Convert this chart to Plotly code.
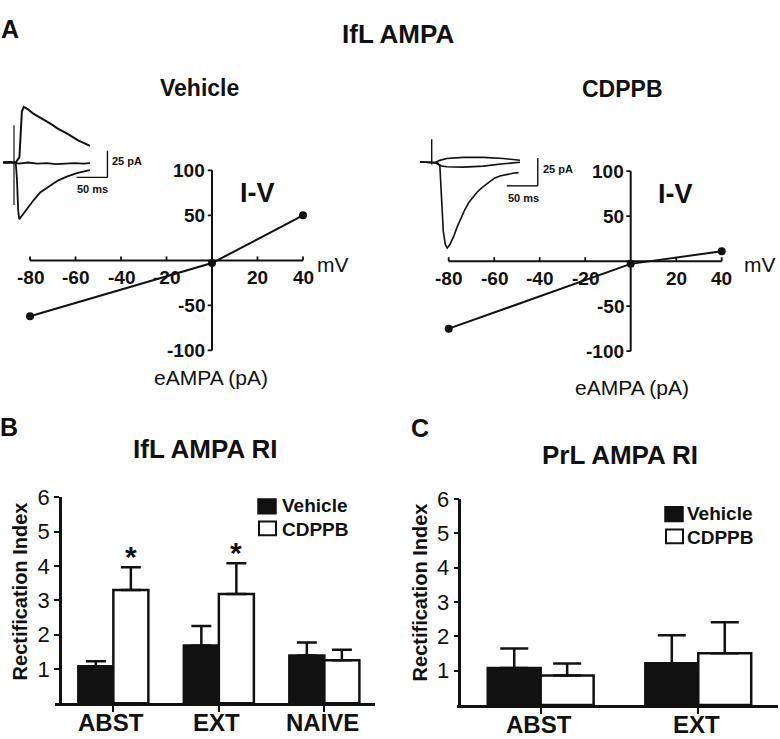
import plotly.graph_objects as go

W, H = 780, 739
FONT = "Liberation Sans, Arial, Helvetica, sans-serif"

# ---------------- DATA ----------------
# Panel A: I-V relationship (holding potential mV -> eAMPA pA)
iv_voltage = [-80, 0, 40]
iv_vehicle = [-62, -3, 50]
iv_cdppb = [-75, -3, 11]
iv_xticks = [-80, -60, -40, -20, 20, 40]
iv_yticks = [-100, -50, 50, 100]

# Panel A insets: example current traces (time ms, current pA)
veh_base_t = [0, 10, 17, 25, 40, 55, 70, 85, 100, 115, 130, 140]
veh_base_i = [0, 0.5, 0, -1, 0, -1, -0.5, -1.5, -1, -0.5, -1, -0.5]
veh_pos_t = [0, 20, 26, 28, 30, 33, 40, 48.4, 62, 75.3, 88, 102.3, 120, 139.8]
veh_pos_i = [0, 0, 5, 30, 48, 52.4, 50, 46, 41.5, 36.8, 32, 27.5, 21, 15.7]
veh_neg_t = [0, 20, 22, 24, 25.8, 30, 37.7, 48.4, 60, 75.3, 88, 102.3, 120, 139.8]
veh_neg_i = [0, 0, -15, -45, -53.4, -50, -43.5, -35.8, -28, -21.9, -17, -13.3, -9.8, -7.1]
veh_artifact_t = [17.3, 17.3]
veh_artifact_i = [35, -40]

cd_pos_t = [0, 24.2, 32, 43.1, 69.8, 102.1, 134.4, 161.3]
cd_pos_i = [0, -0.7, 1.5, 3.1, 4.2, 4.2, 3.1, 1.6]
cd_zero_t = [0, 24.2, 35, 43.1, 69.8, 102.1, 134.4, 161.3]
cd_zero_i = [0, -0.7, -3.5, -4.2, -4.6, -3.7, -1.6, -0.2]
cd_neg_t = [0, 28, 32, 37.6, 41, 44, 48, 54, 60, 66, 72, 79, 86, 92, 100, 113, 120, 129, 140, 150, 159]
cd_neg_i = [0, -0.5, -3, -62, -74, -77, -74, -67, -58, -50, -43, -36, -31, -27, -23, -17, -14.5, -12.5, -11, -10, -9.5]
cd_artifact_t = [18.9, 18.9]
cd_artifact_i = [20.4, -2.2]

scale_ms = 50
scale_pA = 25

# Panel B: IfL AMPA rectification index
groups_B = ["ABST", "EXT", "NAIVE"]
B_vehicle = [1.08, 1.68, 1.39]
B_vehicle_err = [0.14, 0.57, 0.38]
B_cdppb = [3.30, 3.18, 1.25]
B_cdppb_err = [0.66, 0.90, 0.31]
B_sig = [True, True, False]

# Panel C: PrL AMPA rectification index
groups_C = ["ABST", "EXT"]
C_vehicle = [1.08, 1.22]
C_vehicle_err = [0.57, 0.81]
C_cdppb = [0.86, 1.51]
C_cdppb_err = [0.35, 0.90]

ri_ticks = [1, 2, 3, 4, 5, 6]


# ---------------- helpers ----------------
def dx(a, b):
    return [a / W, b / W]


def dy(top, bottom):
    return [1 - bottom / H, 1 - top / H]


def px(x):
    return x / W


def py(y):
    return 1 - y / H


fig = go.Figure()
shapes = []
annotations = []
BLACK = "#111111"

# ---------------- Panel A: I-V plots ----------------
iv_sets = [("x", "y", iv_vehicle), ("x2", "y2", iv_cdppb)]
for xr, yr, vals in iv_sets:
    fig.add_trace(go.Scatter(
        x=iv_voltage, y=vals, mode="lines+markers", xaxis=xr, yaxis=yr,
        line=dict(color=BLACK, width=2), marker=dict(color=BLACK, size=8),
        cliponaxis=False, hoverinfo="skip"))
    shapes.append(dict(type="line", xref=xr, yref=yr, x0=min(iv_xticks), x1=max(iv_xticks),
                       y0=0, y1=0, line=dict(color=BLACK, width=2), layer="below"))
    shapes.append(dict(type="line", xref=xr, yref=yr, x0=0, x1=0,
                       y0=min(iv_yticks), y1=max(iv_yticks), line=dict(color=BLACK, width=2), layer="below"))
    for v in iv_xticks:
        shapes.append(dict(type="line", xref=xr, yref=yr, x0=v, x1=v, y0=0, y1=4.4,
                           line=dict(color=BLACK, width=1.8), layer="below"))
        annotations.append(dict(x=v, y=0, xref=xr, yref=yr, text=str(v), showarrow=False,
                                xanchor="center", yanchor="middle", yshift=-17,
                                font=dict(family=FONT, size=19, color=BLACK, weight="bold")))
    for v in iv_yticks:
        shapes.append(dict(type="line", xref=xr, yref=yr, x0=0, x1=-1.9, y0=v, y1=v,
                           line=dict(color=BLACK, width=1.8), layer="below"))
        annotations.append(dict(x=0, y=v, xref=xr, yref=yr, text=str(v), showarrow=False,
                                xanchor="right", yanchor="middle", xshift=-5,
                                font=dict(family=FONT, size=19, color=BLACK, weight="bold")))
    annotations.append(dict(x=0, y=0, xref=xr, yref=yr, text="I-V", showarrow=False,
                            xanchor="center", yanchor="middle", xshift=45, yshift=67,
                            font=dict(family=FONT, size=27, color=BLACK, weight="bold")))

# ---------------- Panel A insets ----------------
inset_lines = [
    ("x3", "y3", veh_base_t, veh_base_i, 1.8),
    ("x3", "y3", veh_pos_t, veh_pos_i, 2.0),
    ("x3", "y3", veh_neg_t, veh_neg_i, 1.8),
    ("x3", "y3", veh_artifact_t, veh_artifact_i, 1.2),
    ("x4", "y4", cd_pos_t, cd_pos_i, 1.6),
    ("x4", "y4", cd_zero_t, cd_zero_i, 1.6),
    ("x4", "y4", cd_neg_t, cd_neg_i, 1.6),
    ("x4", "y4", cd_artifact_t, cd_artifact_i, 1.4),
]
for xr, yr, t, i, lw in inset_lines:
    fig.add_trace(go.Scatter(x=t, y=i, mode="lines", xaxis=xr, yaxis=yr,
                             line=dict(color=BLACK, width=lw), hoverinfo="skip",
                             cliponaxis=False))

# scale bars (corner in ms / pA units of each inset)
for xr, yr, ct, ci in [("x3", "y3", 168, -14), ("x4", "y4", 190, -21.3)]:
    shapes.append(dict(type="line", xref=xr, yref=yr, x0=ct, x1=ct, y0=ci, y1=ci + scale_pA,
                       line=dict(color=BLACK, width=1.4)))
    shapes.append(dict(type="line", xref=xr, yref=yr, x0=ct - scale_ms, x1=ct, y0=ci, y1=ci,
                       line=dict(color=BLACK, width=1.4)))
    annotations.append(dict(x=ct, y=ci + scale_pA * 0.62, xref=xr, yref=yr, text="25 pA",
                            showarrow=False, xanchor="left", yanchor="middle", xshift=3,
                            font=dict(family=FONT, size=11, color=BLACK, weight="bold")))
    annotations.append(dict(x=ct - scale_ms * 0.47, y=ci, xref=xr, yref=yr, text="50 ms",
                            showarrow=False, xanchor="center", yanchor="middle", yshift=-12,
                            font=dict(family=FONT, size=11, color=BLACK, weight="bold")))

# ---------------- Panels B & C: bar charts ----------------
bar_sets = [
    ("x5", "y5", groups_B, B_vehicle, B_vehicle_err, B_cdppb, B_cdppb_err, 0.332, 10),
    ("x6", "y6", groups_C, C_vehicle, C_vehicle_err, C_cdppb, C_cdppb_err, 0.336, 14),
]
for xr, yr, g, v, ve, c, ce, bw, capw in bar_sets:
    fig.add_trace(go.Bar(
        x=g, y=v, xaxis=xr, yaxis=yr, width=bw, offset=-bw,
        marker=dict(color=BLACK, line=dict(color=BLACK, width=2.5)),
        error_y=dict(type="data", array=ve, arrayminus=[0] * len(ve), symmetric=False,
                     color=BLACK, thickness=2.5, width=capw),
        hoverinfo="skip"))
    fig.add_trace(go.Bar(
        x=g, y=c, xaxis=xr, yaxis=yr, width=bw, offset=0,
        marker=dict(color="white", line=dict(color=BLACK, width=2.5)),
        error_y=dict(type="data", array=ce, arrayminus=[0] * len(ce), symmetric=False,
                     color=BLACK, thickness=2.5, width=capw),
        hoverinfo="skip"))
    for k, name in enumerate(g):
        annotations.append(dict(x=k, y=0, xref=xr, yref=yr, text=name, showarrow=False,
                                xanchor="center", yanchor="middle", yshift=-19, xshift=-2,
                                font=dict(family=FONT, size=24, color=BLACK, weight="bold")))

# significance stars (panel B, CDPPB bars)
for k, sig in enumerate(B_sig):
    if sig:
        annotations.append(dict(x=k + 0.166, y=B_cdppb[k] + B_cdppb_err[k] + 0.3,
                                xref="x5", yref="y5", text="*", showarrow=False,
                                xanchor="center", yanchor="middle",
                                font=dict(family=FONT, size=30, color=BLACK, weight="bold")))

# manual legends
for (sx0, sy0, tx) in [(258, 495, 280), (665, 503, 685)]:
    shapes.append(dict(type="rect", xref="paper", yref="paper",
                       x0=px(sx0), x1=px(sx0 + 18), y0=py(sy0), y1=py(sy0 + 15),
                       fillcolor=BLACK, line=dict(color=BLACK, width=1.5)))
    shapes.append(dict(type="rect", xref="paper", yref="paper",
                       x0=px(sx0 + 1), x1=px(sx0 + 18), y0=py(sy0 + 23), y1=py(sy0 + 37),
                       fillcolor="white", line=dict(color=BLACK, width=2)))
    annotations.append(dict(x=px(tx), y=py(sy0 + 7), xref="paper", yref="paper", text="Vehicle",
                            showarrow=False, xanchor="left", yanchor="middle",
                            font=dict(family=FONT, size=19, color=BLACK, weight="bold")))
    annotations.append(dict(x=px(tx), y=py(sy0 + 31), xref="paper", yref="paper", text="CDPPB",
                            showarrow=False, xanchor="left", yanchor="middle",
                            font=dict(family=FONT, size=19, color=BLACK, weight="bold")))


# ---------------- Text labels ----------------
def txt(x, y, s, size, bold=True, angle=0):
    annotations.append(dict(x=px(x), y=py(y), xref="paper", yref="paper", text=s,
                            showarrow=False, xanchor="center", yanchor="middle",
                            textangle=angle,
                            font=dict(family=FONT, size=size, color=BLACK,
                                      weight="bold" if bold else "normal")))


txt(10, 17, "A", 25)
txt(398, 22, "IfL AMPA", 26)
txt(199.5, 77, "Vehicle", 23)
txt(622.5, 78, "CDPPB", 23)
txt(332.5, 257, "mV", 21, bold=False)
txt(760, 257, "mV", 21, bold=False)
txt(210.7, 372, "eAMPA (pA)", 21, bold=False)
txt(631.7, 382, "eAMPA (pA)", 21, bold=False)
txt(9, 422, "B", 25)
txt(420, 423, "C", 25)
txt(205, 444, "IfL AMPA RI", 26)
txt(620, 450, "PrL AMPA RI", 26)
txt(20, 589, "Rectification Index", 20, angle=-90)
txt(420, 590, "Rectification Index", 20, angle=-90)

# ---------------- Layout ----------------
hidden = dict(visible=False, fixedrange=True, autorange=False)
bar_y = dict(range=[0, 6], autorange=False, showline=True, linewidth=2.5, linecolor=BLACK,
             ticks="outside", ticklen=5, tickwidth=2, tickcolor=BLACK, tickvals=ri_ticks,
             showgrid=False, zeroline=False, anchor="free",
             tickfont=dict(family=FONT, size=22, color=BLACK))
bar_x = dict(type="category", showline=True, linewidth=2.5, linecolor=BLACK,
             ticks="outside", ticklen=6, tickwidth=2, tickcolor=BLACK, showgrid=False,
             zeroline=False, autorange=False, showticklabels=False)

fig.update_layout(
    width=W, height=H, margin=dict(l=0, r=0, t=0, b=0),
    paper_bgcolor="white", plot_bgcolor="rgba(0,0,0,0)", showlegend=False,
    xaxis=dict(hidden, domain=dx(10, 330), range=[-88.8, 51.87], anchor="y"),
    yaxis=dict(hidden, domain=dy(150, 360), range=[-117.5, 112.0], anchor="x"),
    xaxis2=dict(hidden, domain=dx(428.7, 748.7), range=[-88.8, 51.87], anchor="y2"),
    yaxis2=dict(hidden, domain=dy(150.8, 360.8), range=[-117.5, 112.0], anchor="x2"),
    xaxis3=dict(hidden, domain=dx(0, 150), range=[-5.3, 236.6], anchor="y3"),
    yaxis3=dict(hidden, domain=dy(80, 230), range=[-71.3, 67.6], anchor="x3"),
    xaxis4=dict(hidden, domain=dx(410, 580), range=[-16.1, 258.1], anchor="y4"),
    yaxis4=dict(hidden, domain=dy(120, 250), range=[-85.8, 28.6], anchor="x4"),
    xaxis5=dict(bar_x, domain=dx(55, 375), range=[-0.553, 2.48], anchor="y5",
                categoryarray=groups_B, categoryorder="array"),
    yaxis5=dict(bar_y, domain=dy(493.3, 702.6), position=60 / W),
    xaxis6=dict(bar_x, domain=dx(456.7, 778), range=[-0.533, 1.506], anchor="y6",
                categoryarray=groups_C, categoryorder="array"),
    yaxis6=dict(bar_y, domain=dy(495, 704.5), position=459.3 / W),
    shapes=shapes, annotations=annotations,
    font=dict(family=FONT, color=BLACK),
)

POST = (
    "var de=document.documentElement, b=document.body;"
    "de.style.margin='0';de.style.padding='0';de.style.overflow='hidden';"
    "b.style.margin='0';b.style.padding='0';b.style.overflow='hidden';"
    "var gd=document.querySelector('.plotly-graph-div');"
    "if(gd){gd.style.position='absolute';gd.style.top='0px';gd.style.left='0px';}"
)
fig.write_html("out.html", config={"displayModeBar": False}, post_script=POST)
